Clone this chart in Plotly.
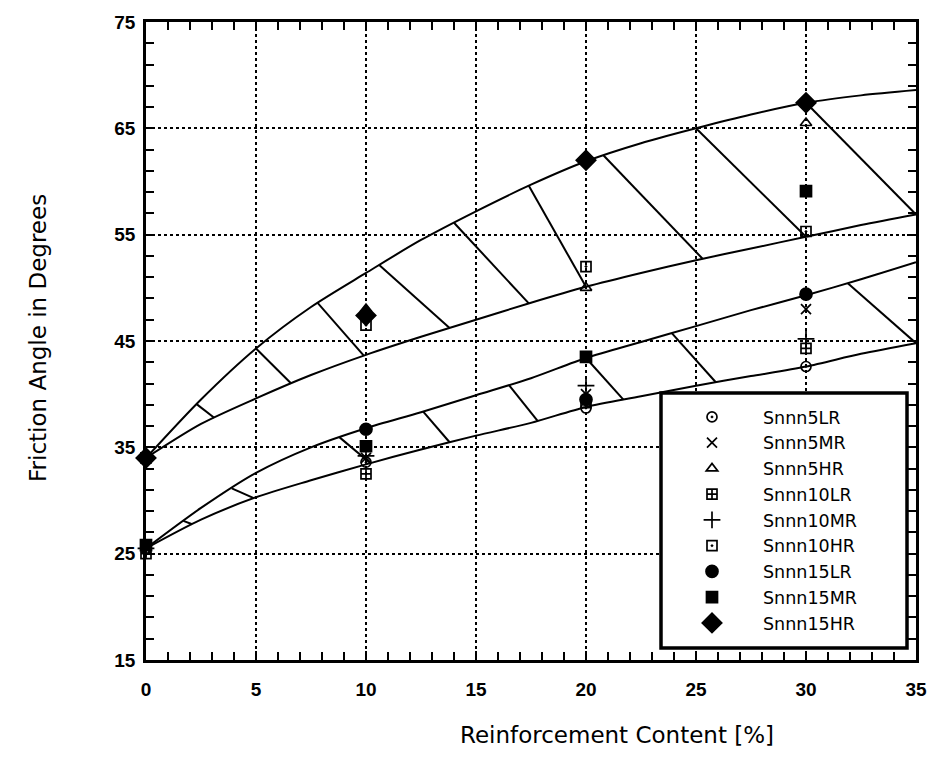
import numpy as np
import plotly.graph_objects as go

# ---- data ----
content = [0, 10, 20, 30]

series_names = ["Snnn5LR", "Snnn5MR", "Snnn5HR", "Snnn10LR", "Snnn10MR",
                "Snnn10HR", "Snnn15LR", "Snnn15MR", "Snnn15HR"]
snnn5LR = [25.5, 33.6, 38.7, 42.6]
snnn5MR = [25.5, 34.0, 40.0, 48.0]
snnn5HR = [34.0, 48.0, 50.0, 65.5]
snnn10LR = [25.0, 32.5, 39.2, 44.3]
snnn10MR = [25.5, 34.2, 40.8, 45.2]
snnn10HR = [34.0, 46.5, 52.0, 55.3]
snnn15LR = [34.0, 36.7, 39.5, 49.4]
snnn15MR = [25.8, 35.1, 43.5, 59.1]
snnn15HR = [34.0, 47.4, 62.0, 67.4]

# boundary curves of the two hatched bands
curve_x = [0, 2.5, 5, 7.5, 10, 12.5, 15, 17.5, 20, 22.5, 25, 27.5, 30, 32.5, 35]
upper_top = [34.0, 39.5, 44.3, 48.2, 51.4, 54.5, 57.2, 59.7, 61.9, 63.6, 65.0, 66.3, 67.4, 68.1, 68.6]
upper_bot = [34.0, 37.2, 39.6, 41.8, 43.7, 45.4, 47.0, 48.6, 50.1, 51.4, 52.6, 53.7, 54.8, 55.9, 56.9]
lower_top = [25.5, 29.3, 32.6, 35.0, 36.8, 38.3, 39.9, 41.5, 43.4, 44.9, 46.4, 47.9, 49.3, 50.8, 52.4]
lower_bot = [25.5, 28.2, 30.3, 31.9, 33.4, 34.8, 36.1, 37.3, 38.8, 39.8, 40.8, 41.7, 42.6, 43.8, 44.8]

# hatch segments: x where each starts on the top curve and ends on the bottom curve
upper_hatch_top_x = [2.3, 5.0, 7.8, 10.6, 14.0, 17.4, 20.8, 25.0, 30.0]
upper_hatch_bot_x = [3.1, 6.6, 9.9, 13.8, 17.4, 20.0, 25.3, 30.0, 35.0]
lower_hatch_top_x = [1.7, 3.9, 8.8, 12.6, 16.5, 20.0, 23.9, 31.9]
lower_hatch_bot_x = [2.1, 4.9, 10.2, 13.8, 17.8, 21.7, 25.9, 35.0]

x_ticks = [0, 5, 10, 15, 20, 25, 30, 35]
y_ticks = [15, 25, 35, 45, 55, 65, 75]

x_title = "Reinforcement Content [%]"
y_title = "Friction Angle in Degrees"

series_values = [snnn5LR, snnn5MR, snnn5HR, snnn10LR, snnn10MR,
                 snnn10HR, snnn15LR, snnn15MR, snnn15HR]
symbols = ["circle-open-dot", "x-thin-open", "triangle-up-open", "square-cross-open",
           "cross-thin-open", "square-open-dot", "circle", "square", "diamond"]
sizes = [10, 10, 10, 10, 12, 10, 12, 11, 15]

fig = go.Figure()

# band curves
for yv in [upper_top, upper_bot, lower_top, lower_bot]:
    fig.add_trace(go.Scatter(x=curve_x, y=yv, mode="lines",
                             line=dict(color="black", width=2, shape="spline", smoothing=0.8),
                             showlegend=False, hoverinfo="skip"))


def hatch(tx, bx, top, bot):
    xs, ys = [], []
    for a, b in zip(tx, bx):
        xs += [a, b, None]
        ys += [float(np.interp(a, curve_x, top)), float(np.interp(b, curve_x, bot)), None]
    return xs, ys


for tx, bx, top, bot in [(upper_hatch_top_x, upper_hatch_bot_x, upper_top, upper_bot),
                         (lower_hatch_top_x, lower_hatch_bot_x, lower_top, lower_bot)]:
    hx, hy = hatch(tx, bx, top, bot)
    fig.add_trace(go.Scatter(x=hx, y=hy, mode="lines",
                             line=dict(color="black", width=2),
                             showlegend=False, hoverinfo="skip"))

for name, vals, sym, sz in zip(series_names, series_values, symbols, sizes):
    fig.add_trace(go.Scatter(
        x=content, y=vals, mode="markers", name=name,
        marker=dict(symbol=sym, size=sz, color="black",
                    line=dict(color="black", width=1.7)),
        cliponaxis=False))

axis_font = dict(family="Liberation Sans, Arial, sans-serif", size=19, color="black", weight="bold")
title_font = dict(family="DejaVu Sans, sans-serif", size=23, color="black")

common = dict(ticks="inside", ticklen=9, tickwidth=1.5, tickcolor="black",
              showline=True, linecolor="black", linewidth=2.5, mirror="ticks",
              showgrid=True, gridcolor="black", griddash="dot", gridwidth=1.5,
              zeroline=False, tickfont=axis_font)
fig.update_xaxes(range=[0, 35], tickvals=x_ticks, ticklabelstandoff=10,
                 minor=dict(dtick=1, ticks="inside", ticklen=8, tickcolor="black", tickwidth=1.5),
                 **common)
fig.update_yaxes(range=[15, 75], tickvals=y_ticks, ticklabelstandoff=4,
                 minor=dict(dtick=2, tick0=15, ticks="inside", ticklen=8, tickcolor="black", tickwidth=1.5),
                 **common)

# axis titles
fig.add_annotation(text=x_title, xref="paper", yref="paper",
                   x=(617 - 146) / 770, y=(660 - 735) / 638,
                   xanchor="center", yanchor="middle", showarrow=False, font=title_font)
fig.add_annotation(text=y_title, xref="paper", yref="paper",
                   x=(38 - 146) / 770, y=(660 - 338) / 638, textangle=-90,
                   xanchor="center", yanchor="middle", showarrow=False, font=title_font)

# legend frame
fig.add_shape(type="rect", xref="paper", yref="paper",
              x0=(661 - 146) / 770, x1=(907 - 146) / 770,
              y0=(660 - 648) / 638, y1=(660 - 393) / 638,
              line=dict(color="black", width=3.5), fillcolor="white", layer="above")

fig.update_layout(
    width=938, height=774,
    margin=dict(l=146, r=22, t=22, b=114),
    plot_bgcolor="white", paper_bgcolor="white",
    legend=dict(x=(661 - 146) / 770, y=(660 - 399) / 638, xanchor="left", yanchor="top",
                bgcolor="rgba(0,0,0,0)", borderwidth=0,
                font=dict(family="DejaVu Sans, sans-serif", size=17.5, color="black"),
                itemwidth=92, tracegroupgap=0),
)

fig.write_html("out.html")
